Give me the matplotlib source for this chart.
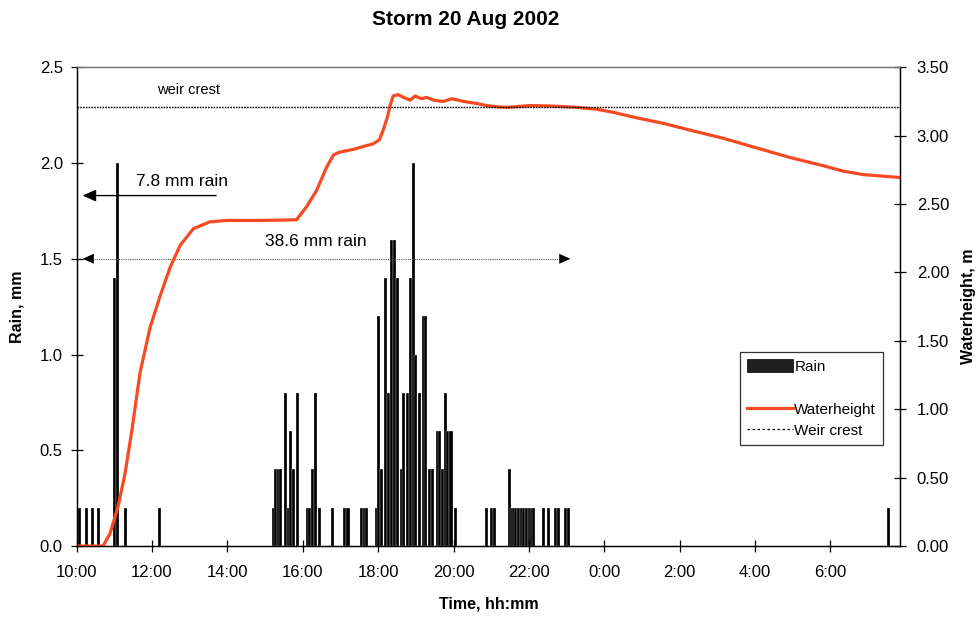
import numpy as np
import matplotlib.pyplot as plt
from matplotlib.patches import Patch
from matplotlib.lines import Line2D

plt.rcParams['font.family'] = ['Liberation Sans', 'DejaVu Sans']

# ---- data: storm of 20 Aug 2002 (start of record 10:00) ----
rain_times = ["10:05", "10:15", "10:25", "10:35", "11:01", "11:05", "11:17", "12:12",
              "15:13", "15:17", "15:21", "15:25", "15:32", "15:37", "15:41", "15:45", "15:51",
              "16:07", "16:11", "16:16", "16:21", "16:26", "16:47", "17:07", "17:12",
              "17:33", "17:38", "17:41",
              "17:57", "18:01", "18:06", "18:11", "18:17", "18:22", "18:26", "18:31",
              "18:37", "18:41", "18:46", "18:51", "18:57", "19:00", "19:06", "19:13",
              "19:16", "19:21", "19:26", "19:34", "19:38", "19:42", "19:47", "19:51",
              "19:56", "20:03",
              "20:53", "21:01", "21:06", "21:29", "21:32", "21:35", "21:39", "21:43",
              "21:48", "21:51", "21:56", "22:01", "22:04", "22:08", "22:23", "22:32",
              "22:42", "22:47", "22:58", "23:03", "7:33"]
rain_mm = [0.2, 0.2, 0.2, 0.2, 1.4, 2.0, 0.2, 0.2,
           0.2, 0.4, 0.4, 0.4, 0.8, 0.2, 0.6, 0.4, 0.8,
           0.2, 0.2, 0.4, 0.8, 0.2, 0.2, 0.2, 0.2,
           0.2, 0.2, 0.2,
           0.2, 1.2, 0.4, 1.4, 0.8, 1.6, 1.6, 1.4,
           0.4, 0.8, 0.8, 1.4, 2.0, 1.0, 0.8, 1.2,
           1.2, 0.4, 0.4, 0.6, 0.6, 0.4, 0.8, 0.6,
           0.6, 0.2,
           0.2, 0.2, 0.2, 0.4, 0.2, 0.2, 0.2, 0.2,
           0.2, 0.2, 0.2, 0.2, 0.2, 0.2, 0.2, 0.2,
           0.2, 0.2, 0.2, 0.2, 0.2]

wh_times = ["10:00", "10:42", "10:53", "11:06", "11:17", "11:28", "11:41", "11:57",
            "12:13", "12:29", "12:45", "13:06", "13:32", "13:59", "14:52", "15:50",
            "16:06", "16:22", "16:38", "16:49", "16:59", "17:21", "17:36", "17:52",
            "18:02", "18:08", "18:15", "18:19", "18:24", "18:32", "18:40", "18:51",
            "18:59", "19:09", "19:17", "19:28", "19:44", "19:57", "20:16", "20:37",
            "20:53", "21:12", "21:25", "22:02", "22:34", "23:16", "23:48", "0:15",
            "0:52", "1:34", "2:17", "3:10", "4:03", "4:56", "5:49", "6:21",
            "6:53", "7:51"]
wh_m = [0.0, 0.0, 0.09, 0.29, 0.53, 0.85, 1.27, 1.60,
        1.83, 2.04, 2.20, 2.32, 2.37, 2.38, 2.38, 2.385,
        2.48, 2.60, 2.77, 2.86, 2.88, 2.90, 2.92, 2.94,
        2.97, 3.04, 3.14, 3.22, 3.29, 3.30, 3.28, 3.26,
        3.29, 3.27, 3.28, 3.26, 3.25, 3.27, 3.25, 3.235,
        3.22, 3.21, 3.207, 3.22, 3.217, 3.207, 3.193, 3.17,
        3.13, 3.09, 3.04, 2.98, 2.91, 2.84, 2.78, 2.74,
        2.715, 2.694]

weir_crest = 3.21   # m
t_end = 21.85       # hours after 10:00


def hours(s):
    """'HH:MM' -> hours after 10:00 (times before 10:00 belong to the next day)"""
    h, m = map(int, s.split(':'))
    if h < 10:
        h += 24
    return h - 10 + m / 60


rain_t = np.array([hours(s) for s in rain_times])
wh_t = np.array([hours(s) for s in wh_times])

red = '#f84a22'

fig = plt.figure(figsize=(9.78, 6.17), dpi=100)
ax = fig.add_axes([0.0784, 0.115, 0.8419, 0.776])
ax2 = ax.twinx()

# rain bars (left axis), thin white edges keep neighbouring bars apart
ax.bar(rain_t, rain_mm, width=4.8 / 60, color='black', edgecolor='white', linewidth=0.2)
ax.set_xlim(0, t_end)
ax.set_ylim(0, 2.5)
ax.set_yticks(np.arange(0, 2.51, 0.5))
ax.set_yticklabels([f'{v:.1f}' for v in np.arange(0, 2.51, 0.5)])
xt = np.arange(0, 21, 2)
ax.set_xticks(xt)
ax.set_xticklabels([f'{(10 + int(h)) % 24}:00' for h in xt])

# water level and weir crest (right axis)
ax2.plot(wh_t, wh_m, color=red, lw=2.3, solid_joinstyle='round')
ax2.axhline(weir_crest, color='black', lw=1.0, ls=(0, (1.2, 0.8)))
ax2.set_ylim(0, 3.5)
ax2.set_yticks(np.arange(0, 3.51, 0.5))
ax2.set_yticklabels([f'{v:.2f}' for v in np.arange(0, 3.51, 0.5)])

for a in (ax, ax2):
    a.tick_params(direction='inout', length=8, width=0.9, labelsize=12, pad=5)
    for s in a.spines.values():
        s.set_linewidth(0.9)
ax.tick_params(axis='x', pad=10)
ax.tick_params(axis='y', pad=6)
ax2.tick_params(axis='y', pad=8)
ax.spines['top'].set_color('0.45')
ax2.spines['top'].set_color('0.45')

ax.set_ylabel('Rain, mm', fontsize=11.5, fontweight='bold', va='center')
ax.yaxis.set_label_coords(-0.0725, 0.5)
ax2.set_ylabel('Waterheight, m', fontsize=11.5, fontweight='bold', va='center')
ax2.yaxis.set_label_coords(1.083, 0.5)
ax.set_xlabel('Time, hh:mm', fontsize=11.5, fontweight='bold', va='center')
ax.xaxis.set_label_coords(0.5, -0.121)
fig.text(0.476, 0.969, 'Storm 20 Aug 2002', ha='center', va='center',
         fontsize=15, fontweight='bold')

# annotations
ax.text(2.14, 2.383, 'weir crest', fontsize=10.5, va='center')

ax.annotate('', xy=(0.16, 1.83), xytext=(3.70, 1.83),
            arrowprops=dict(arrowstyle='-|>,head_length=0.8,head_width=0.36',
                            mutation_scale=10, color='black', lw=1,
                            shrinkA=0, shrinkB=0))
ax.text(1.57, 1.905, '7.8 mm rain', fontsize=12.5, va='center')

ax.plot([0.16, 13.1], [1.5, 1.5], color='0.35', lw=0.8, ls=(0, (1, 1)))
for tip, tail in ((0.16, 0.5), (13.1, 12.76)):
    ax.annotate('', xy=(tip, 1.5), xytext=(tail, 1.5),
                arrowprops=dict(arrowstyle='-|>,head_length=0.8,head_width=0.36',
                                mutation_scale=10, color='black', lw=0,
                                shrinkA=0, shrinkB=0))
ax.text(5.0, 1.59, '38.6 mm rain', fontsize=12.5, va='center')

# legend
handles = [Patch(facecolor='#202020', edgecolor='black', lw=0.5),
           Line2D([], [], color='none'),
           Line2D([], [], color=red, lw=2.3),
           Line2D([], [], color='black', lw=0.9, ls=(0, (2, 2)))]
labels = ['Rain', '', 'Waterheight', 'Weir crest']
leg = ax2.legend(handles, labels, loc='upper left', bbox_to_anchor=(0.8057, 0.405),
                 borderaxespad=0, fontsize=11, frameon=True, fancybox=False,
                 handlelength=3.0, handleheight=0.9, handletextpad=0.1,
                 borderpad=0.45, labelspacing=0.45)
leg.get_frame().set_edgecolor('black')
leg.get_frame().set_linewidth(0.9)

fig.savefig('out.png', dpi=100)
